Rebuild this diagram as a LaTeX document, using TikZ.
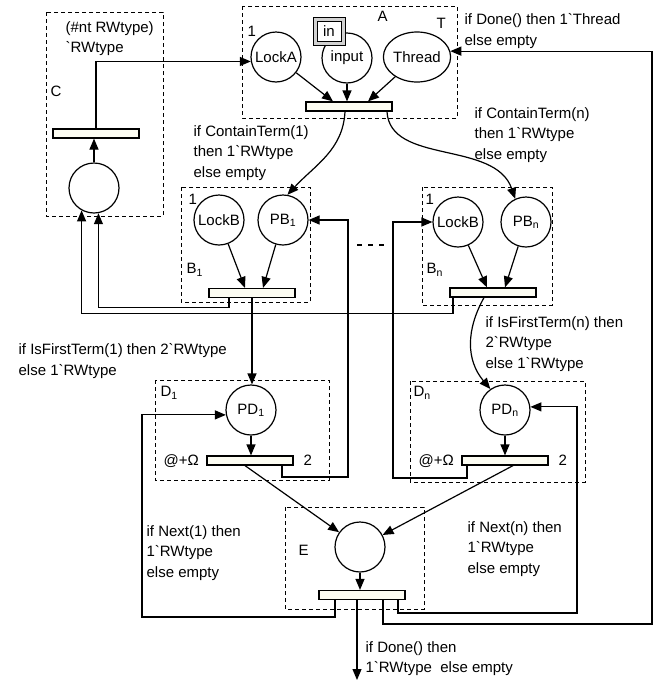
\documentclass[tikz,border=0pt]{standalone}
\usepackage{fontspec}
\setmainfont{Liberation Sans}
\usetikzlibrary{arrows.meta,shapes.geometric}
\definecolor{transfill}{RGB}{252,252,242}
\newcommand{\bq}{\textasciigrave}
\newcommand{\sbs}[1]{\textsubscript{#1}}
\begin{document}
\begin{tikzpicture}[x=1pt,y=-1pt, line width=1.2pt, font=\fontsize{15}{20.5}\selectfont,
 place/.style={circle,draw,fill=white,minimum size=50pt,inner sep=0pt},
 trans/.style={rectangle,draw,fill=transfill,minimum width=86pt,minimum height=9pt,inner sep=0pt},
 dbox/.style={draw,dash pattern=on 4pt off 3pt,line width=0.9pt},
 arr/.style={-{Triangle[length=11pt,width=9pt]}},
 lbl/.style={anchor=north west,inner sep=0pt,align=left},
]
\useasboundingbox (0,0) rectangle (657,686);

% dashed boxes
\draw[dbox] (46,12) rectangle (163,216);
\draw[dbox] (242,6) rectangle (457,118);
\draw[dbox] (181,187) rectangle (310,302);
\draw[dbox] (422,187) rectangle (552,305);
\draw[dbox] (155,380) rectangle (329,480);
\draw[dbox] (410,381) rectangle (585,482);
\draw[dbox] (285,507) rectangle (424,609);

% places
\node[place] (pC) at (94,188) {};
\node[place] (LockA) at (276,57) {LockA};
\node[place] (input) at (347,58) {input};
\node[place,ellipse,minimum width=56pt,minimum height=50pt] (Thread) at (417,57) {Thread};
\node[draw,fill=gray!35,minimum width=32pt,minimum height=28pt,inner sep=0pt,line width=0.8pt] (inbox) at (329,31) {};
\node[draw,fill=white,minimum width=24pt,minimum height=20pt,inner sep=0pt,line width=0.9pt] (inlbl) at (329,31) {in};
\node[place] (LockB1) at (219,220) {LockB};
\node[place] (PB1) at (283,220) {PB\sbs{1}};
\node[place] (LockBn) at (458,222) {LockB};
\node[place] (PBn) at (526,222) {PB\sbs{n}};
\node[place] (PD1) at (251,410) {PD\sbs{1}};
\node[place] (PDn) at (505,410) {PD\sbs{n}};
\node[place] (pE) at (360,547) {};

% transitions
\node[trans] (tC) at (96,133.5) {};
\node[trans] (tA) at (349,106.5) {};
\node[trans] (tB1) at (252,293) {};
\node[trans] (tBn) at (493,292.5) {};
\node[trans] (tD1) at (250,460.5) {};
\node[trans] (tDn) at (505,460.5) {};
\node[trans] (tE) at (362,595) {};

% helper coordinates
\coordinate (cThr) at (652,624);
\coordinate (cD1) at (142,617);
\coordinate (cDn) at (577,613);
\coordinate (cPB1) at (348,477);
\coordinate (cLBn) at (393,478);
\coordinate (out) at (357,680);

% arcs in C and A
\draw[arr] (pC.north) -- (pC.north |- tC.south);
\draw[arr] (tC.north) |- (LockA.190);
\draw[arr] (LockA) -- ([xshift=-16pt]tA.north);
\draw[arr] (input.south) -- ([xshift=-2pt]tA.north);
\draw[arr] (Thread) -- ([xshift=19pt]tA.north);
\draw[arr] ([xshift=-4pt]tA.south) .. controls (343,150) and (315,165) .. (PB1.80);
\draw[arr] ([xshift=38pt]tA.south) .. controls (390,165) and (495,140) .. (PBn.115);

% B1, Bn
\draw[arr] (LockB1) -- ([xshift=-7pt]tB1.north);
\draw[arr] (PB1) -- ([xshift=11pt]tB1.north);
\draw[arr] (LockBn) -- ([xshift=-6pt]tBn.north);
\draw[arr] (PBn) -- ([xshift=12pt]tBn.north);
\draw[arr] ([xshift=-23pt]tB1.south) -- ++(0,9) -| (pC.-80);
\draw[arr] ([xshift=-40pt]tBn.south) -- ++(0,16) -| (pC.-119);
\draw[arr] (tB1.south) -- (tB1.south |- PD1.north);
\draw[arr] ([xshift=-9pt]tBn.south) .. controls (466,330) and (466,360) .. (PDn.125);

% D1, Dn
\draw[arr] (PD1.south) -- (PD1.south |- tD1.north);
\draw[arr] (PDn.south) -- (PDn.south |- tDn.north);
\draw[arr] ([xshift=32pt]tD1.south) |- (cPB1) |- (PB1.east);
\draw[arr] ([xshift=-38pt]tDn.south) |- (cLBn) |- (LockBn.west);
\draw[arr] ([xshift=-5pt]tD1.south) -- (pE);
\draw[arr] ([xshift=8pt]tDn.south) -- (pE);

% E
\draw[arr] (pE.south) -- (pE.south |- tE.north);
\draw[arr] ([xshift=-27pt]tE.south) |- (cD1) |- (PD1.191);
\draw[arr] ([xshift=36pt]tE.south) |- (cDn) |- (PDn.7);
\draw[arr] ([xshift=21pt]tE.south) |- (cThr) |- (Thread.10);
\draw[arr] ([xshift=-5pt]tE.south) -- (out);

% dots between B1 and Bn
\draw[dash pattern=on 5pt off 6pt] (357,245) -- (386,245);

% labels
\node[lbl] (lC1) at (65,21) {(\#nt RWtype)\\\bq RWtype};
\node[lbl] (lC) at (50,85) {C};
\node[lbl] (lA1) at (247,26) {1};
\node[lbl] (lA) at (377,11) {A};
\node[lbl] (lT) at (436,18) {T};
\node[lbl] (lDoneT) at (464,13) {if Done() then 1\bq Thread\\else empty};
\node[lbl] (lCT1) at (193,125) {if ContainTerm(1)\\then 1\bq RWtype\\else empty};
\node[lbl] (lCTn) at (474,107) {if ContainTerm(n)\\then 1\bq RWtype\\else empty};
\node[lbl] (lB11) at (188,194) {1};
\node[lbl] (lB1) at (186,263) {B\sbs{1}};
\node[lbl] (lBn1) at (425,194) {1};
\node[lbl] (lBn) at (426,263) {B\sbs{n}};
\node[lbl] (lIF1) at (18,343) {if IsFirstTerm(1) then 2\bq RWtype\\else 1\bq RWtype};
\node[lbl] (lIFn) at (485,316) {if IsFirstTerm(n) then\\2\bq RWtype\\else 1\bq RWtype};
\node[lbl] (lD1) at (160,386) {D\sbs{1}};
\node[lbl] (lDn) at (413,386) {D\sbs{n}};
\node[lbl] (lO1) at (163,454) {@+Ω};
\node[lbl] (lO2) at (303,454) {2};
\node[lbl] (lOn) at (418,454) {@+Ω};
\node[lbl] (lOn2) at (558,454) {2};
\node[lbl] (lN1) at (146,525) {if Next(1) then\\ 1\bq RWtype\\else empty};
\node[lbl] (lE) at (298,545) {E};
\node[lbl] (lNn) at (467,521) {if Next(n) then\\1\bq RWtype\\else empty};
\node[lbl] (lDone) at (365,641) {if Done() then\\1\bq RWtype\ \ else empty};
\end{tikzpicture}
\end{document}
